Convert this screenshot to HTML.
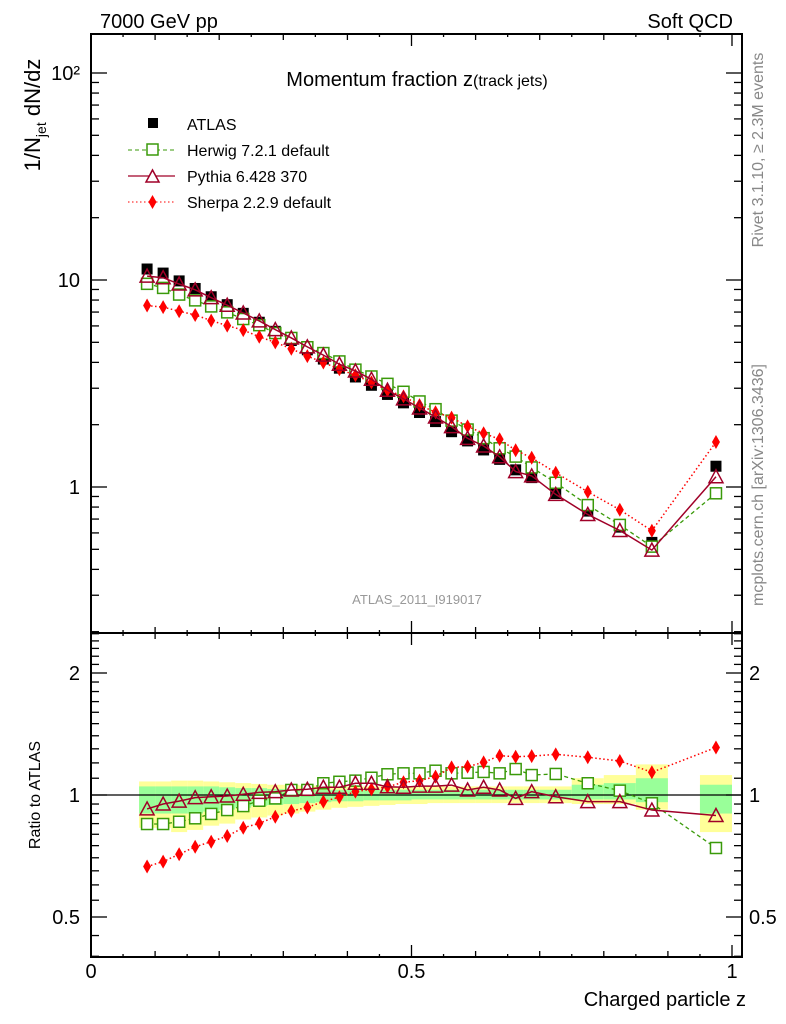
<!DOCTYPE html>
<html><head><meta charset="utf-8"><style>
html,body{margin:0;padding:0;background:#fff;}
svg{display:block;font-family:"Liberation Sans",sans-serif;}
</style></head><body>
<svg id="chart" width="786" height="1024" viewBox="0 0 786 1024" xmlns="http://www.w3.org/2000/svg">
<text x="100" y="28" font-size="20">7000 GeV pp</text>
<text x="733" y="28" font-size="20" text-anchor="end">Soft QCD</text>
<text x="417" y="86" font-size="20" text-anchor="middle">Momentum fraction z<tspan font-size="16">(track jets)</tspan></text>
<text x="417" y="604" font-size="13" fill="#999" text-anchor="middle">ATLAS_2011_I919017</text>
<text transform="translate(763,150) rotate(-90)" font-size="16" fill="#888" text-anchor="middle">Rivet 3.1.10, ≥ 2.3M events</text>
<text transform="translate(763,485) rotate(-90)" font-size="16" fill="#888" text-anchor="middle">mcplots.cern.ch [arXiv:1306.3436]</text>
<text transform="translate(40,115) rotate(-90)" font-size="22" text-anchor="middle">1/N<tspan font-size="14" dy="6">jet</tspan><tspan dy="-6"> dN/dz</tspan></text>
<text transform="translate(40,795) rotate(-90)" font-size="16" text-anchor="middle">Ratio to ATLAS</text>
<text x="746" y="1006" font-size="20" text-anchor="end">Charged particle z</text>
<g id="legend">
<g><rect x="148" y="118" width="10" height="10" fill="#000"/><text x="187" y="130" font-size="16">ATLAS</text></g>
<g><line x1="128" y1="150" x2="175" y2="150" stroke="#3a9a0a" stroke-dasharray="4,3"/><rect x="147" y="144" width="11" height="11" fill="#fff" stroke="#3a9a0a" stroke-width="1.5"/><text x="187" y="156" font-size="16">Herwig 7.2.1 default</text></g>
<g><line x1="128" y1="176" x2="175" y2="176" stroke="#a00028" stroke-width="1.3"/><path d="M146,182 L159,182 L152.5,170 Z" fill="#fff" stroke="#a00028" stroke-width="1.5"/><text x="187" y="182" font-size="16">Pythia 6.428 370</text></g>
<g><line x1="128" y1="202" x2="175" y2="202" stroke="#f00" stroke-dasharray="1.5,2.5"/><path d="M152.5,195 L156.5,202 L152.5,209 L148.5,202 Z" fill="#f00"/><text x="187" y="208" font-size="16">Sherpa 2.2.9 default</text></g>
</g>
<g id="plot"></g>
</svg>
<script>
const xCenters=[0.0875,0.1125,0.1375,0.1625,0.1875,0.2125,0.2375,0.2625,0.2875,0.3125,0.3375,0.3625,0.3875,0.4125,0.4375,0.4625,0.4875,0.5125,0.5375,0.5625,0.5875,0.6125,0.6375,0.6625,0.6875,0.725,0.775,0.825,0.875,0.975];
const xLo=[0.075,0.1,0.125,0.15,0.175,0.2,0.225,0.25,0.275,0.3,0.325,0.35,0.375,0.4,0.425,0.45,0.475,0.5,0.525,0.55,0.575,0.6,0.625,0.65,0.675,0.7,0.75,0.8,0.85,0.95];
const xHi=[0.1,0.125,0.15,0.175,0.2,0.225,0.25,0.275,0.3,0.325,0.35,0.375,0.4,0.425,0.45,0.475,0.5,0.525,0.55,0.575,0.6,0.625,0.65,0.675,0.7,0.75,0.8,0.85,0.9,1.0];
const atlas=[11.3,10.8,9.9,9.1,8.3,7.6,6.9,6.25,5.65,5.1,4.6,4.15,3.75,3.4,3.1,2.8,2.55,2.29,2.07,1.85,1.67,1.51,1.36,1.21,1.11,0.93,0.765,0.64,0.54,1.26];
const herwigRatio=[0.848,0.848,0.859,0.876,0.898,0.918,0.939,0.968,0.981,1.029,1.029,1.069,1.078,1.085,1.103,1.125,1.131,1.131,1.148,1.131,1.135,1.14,1.131,1.159,1.12,1.127,1.069,1.025,0.954,0.74];
const pythiaRatio=[0.924,0.95,0.966,0.985,0.99,0.994,1.004,1.015,1.019,1.029,1.033,1.045,1.045,1.069,1.069,1.048,1.045,1.052,1.052,1.058,1.029,1.045,1.029,0.981,1.019,0.99,0.963,0.963,0.918,0.89];
const sherpaRatio=[0.666,0.685,0.714,0.745,0.767,0.792,0.83,0.851,0.884,0.913,0.932,0.963,0.988,1.019,1.033,1.048,1.075,1.085,1.11,1.17,1.175,1.204,1.25,1.243,1.247,1.26,1.239,1.213,1.138,1.31];
const yellowHi=[1.08,1.08,1.085,1.085,1.08,1.075,1.07,1.065,1.06,1.06,1.055,1.055,1.05,1.05,1.05,1.05,1.05,1.05,1.05,1.05,1.05,1.05,1.05,1.05,1.05,1.05,1.1,1.12,1.19,1.12];
const yellowLo=[0.83,0.83,0.81,0.82,0.84,0.85,0.87,0.88,0.89,0.9,0.91,0.92,0.93,0.935,0.94,0.945,0.95,0.95,0.955,0.955,0.955,0.955,0.955,0.955,0.955,0.955,0.95,0.95,0.92,0.81];
const greenHi=[1.05,1.05,1.05,1.05,1.05,1.045,1.04,1.04,1.035,1.035,1.035,1.03,1.03,1.03,1.03,1.03,1.03,1.03,1.03,1.03,1.03,1.03,1.03,1.03,1.03,1.03,1.06,1.07,1.1,1.06];
const greenLo=[0.9,0.9,0.9,0.9,0.91,0.92,0.93,0.94,0.945,0.95,0.955,0.96,0.965,0.965,0.97,0.97,0.97,0.975,0.975,0.975,0.975,0.975,0.975,0.975,0.975,0.975,0.975,0.975,0.96,0.9];
const mainYTicks=[1,10,100];
const mainYLabels=["1","10","10²"];
const ratioTicks=[0.5,1,2];
const ratioLabels=["0.5","1","2"];
const xTicks=[0,0.5,1];
const xLabels=["0","0.5","1"];

const NS="http://www.w3.org/2000/svg";
const L=91,R=742,T=34,MB=633,RB=957;
const X=v=>L+v*641;
const Ym=v=>487-Math.log10(v)*207;
const Yr=v=>795-Math.log2(v)*122;
const g=document.getElementById('plot');
function el(tag,attrs,parent){const e=document.createElementNS(NS,tag);for(const k in attrs)e.setAttribute(k,attrs[k]);(parent||g).appendChild(e);return e;}

const bands=el('g',{});


xCenters.forEach((c,i)=>{
  const y=el('rect',{x:X(xLo[i]),y:Yr(yellowHi[i]),width:X(xHi[i])-X(xLo[i]),height:Yr(yellowLo[i])-Yr(yellowHi[i]),fill:'#ffff99'},bands);
  
  
  const gr=el('rect',{x:X(xLo[i]),y:Yr(greenHi[i]),width:X(xHi[i])-X(xLo[i]),height:Yr(greenLo[i])-Yr(greenHi[i]),fill:'#99ff99'},bands);
  
  
});
const one=el('line',{x1:L,x2:R,y1:Yr(1),y2:Yr(1),stroke:'#000','stroke-width':1.3});



const f1=el('rect',{x:L,y:T,width:R-L,height:MB-T,fill:'none',stroke:'#000','stroke-width':2});


const f2=el('rect',{x:L,y:MB,width:R-L,height:RB-MB,fill:'none',stroke:'#000','stroke-width':2});



const tk=el('g',{stroke:'#000','stroke-width':1.3});


for(let k=0;k<=20;k++){const v=k*0.05;const xx=X(v);const len=(k%10==0)?12:(k%2==0?6:3);
  [[T,T+len],[MB,MB-len],[MB,MB+len],[RB,RB-len]].forEach(p=>el('line',{x1:xx,x2:xx,y1:p[0],y2:p[1]},tk));}
for(let d=-1;d<=2;d++){for(let m=1;m<=9;m++){const v=m*Math.pow(10,d);const yy=Ym(v);if(yy<T||yy>MB)continue;const len=m==1?16:8;
  el('line',{x1:L,x2:L+len,y1:yy,y2:yy},tk);el('line',{x1:R,x2:R-len,y1:yy,y2:yy},tk);}}
const rMinor=[0.4,0.45,0.5,0.55,0.6,0.65,0.7,0.75,0.8,0.85,0.9,0.95,1,1.1,1.2,1.3,1.4,1.5,1.6,1.7,1.8,1.9,2,2.1,2.2,2.3,2.4,2.5];
rMinor.forEach(v=>{const yy=Yr(v);if(yy<MB||yy>RB)return;const len=(v==0.5||v==1||v==2)?16:8;
  el('line',{x1:L,x2:L+len,y1:yy,y2:yy},tk);el('line',{x1:R,x2:R-len,y1:yy,y2:yy},tk);});

mainYTicks.forEach((v,i)=>{const t=el('text',{x:80,y:Ym(v)+7,'font-size':20,'text-anchor':'end'});t.textContent=mainYLabels[i];
  
  });
ratioTicks.forEach((v,i)=>{
  const a=el('text',{x:80,y:Yr(v)+7,'font-size':20,'text-anchor':'end'});a.textContent=ratioLabels[i];
  
  
  const b=el('text',{x:749,y:Yr(v)+7,'font-size':20});b.textContent=ratioLabels[i];
  
  });
xTicks.forEach((v,i)=>{const t=el('text',{x:X(v),y:978,'font-size':20,'text-anchor':'middle'});t.textContent=xLabels[i];
  
  });

function series(vals,yf,color,dash,width,marker,name){
  const s=el('g',{});
  
  
  if(color){const pts=vals.map((v,i)=>X(xCenters[i])+','+yf(v)).join(' ');
    const pl=el('polyline',{points:pts,fill:'none',stroke:color,'stroke-width':width,'stroke-dasharray':dash},s);
    
    }
  vals.forEach((v,i)=>{const x=X(xCenters[i]),y=yf(v);let m;
    if(marker=='sq')m=el('rect',{x:x-5.5,y:y-5.5,width:11,height:11,fill:'#fff',stroke:'#3a9a0a','stroke-width':1.5},s);
    else if(marker=='tri')m=el('path',{d:`M${x-7},${y+6} L${x+7},${y+6} L${x},${y-7} Z`,fill:'none',stroke:'#a00028','stroke-width':1.5},s);
    else if(marker=='dia')m=el('path',{d:`M${x},${y-7} L${x+4},${y} L${x},${y+7} L${x-4},${y} Z`,fill:'#f00'},s);
    else m=el('rect',{x:x-5.5,y:y-5.5,width:11,height:11,fill:'#000'},s);
    
    });
}
const herwig=atlas.map((a,i)=>a*herwigRatio[i]);
const pythia=atlas.map((a,i)=>a*pythiaRatio[i]);
const sherpa=atlas.map((a,i)=>a*sherpaRatio[i]);
series(atlas,Ym,null,null,0,'atlas','atlas-data');
series(herwig,Ym,'#3a9a0a','4,3',1.3,'sq','herwig-main');
series(sherpa,Ym,'#f00','1.5,2.5',1.5,'dia','sherpa-main');
series(pythia,Ym,'#a00028','none',1.5,'tri','pythia-main');
series(herwigRatio,Yr,'#3a9a0a','4,3',1.3,'sq','herwig-ratio');
series(sherpaRatio,Yr,'#f00','1.5,2.5',1.5,'dia','sherpa-ratio');
series(pythiaRatio,Yr,'#a00028','none',1.5,'tri','pythia-ratio');
</script>
</body></html>
